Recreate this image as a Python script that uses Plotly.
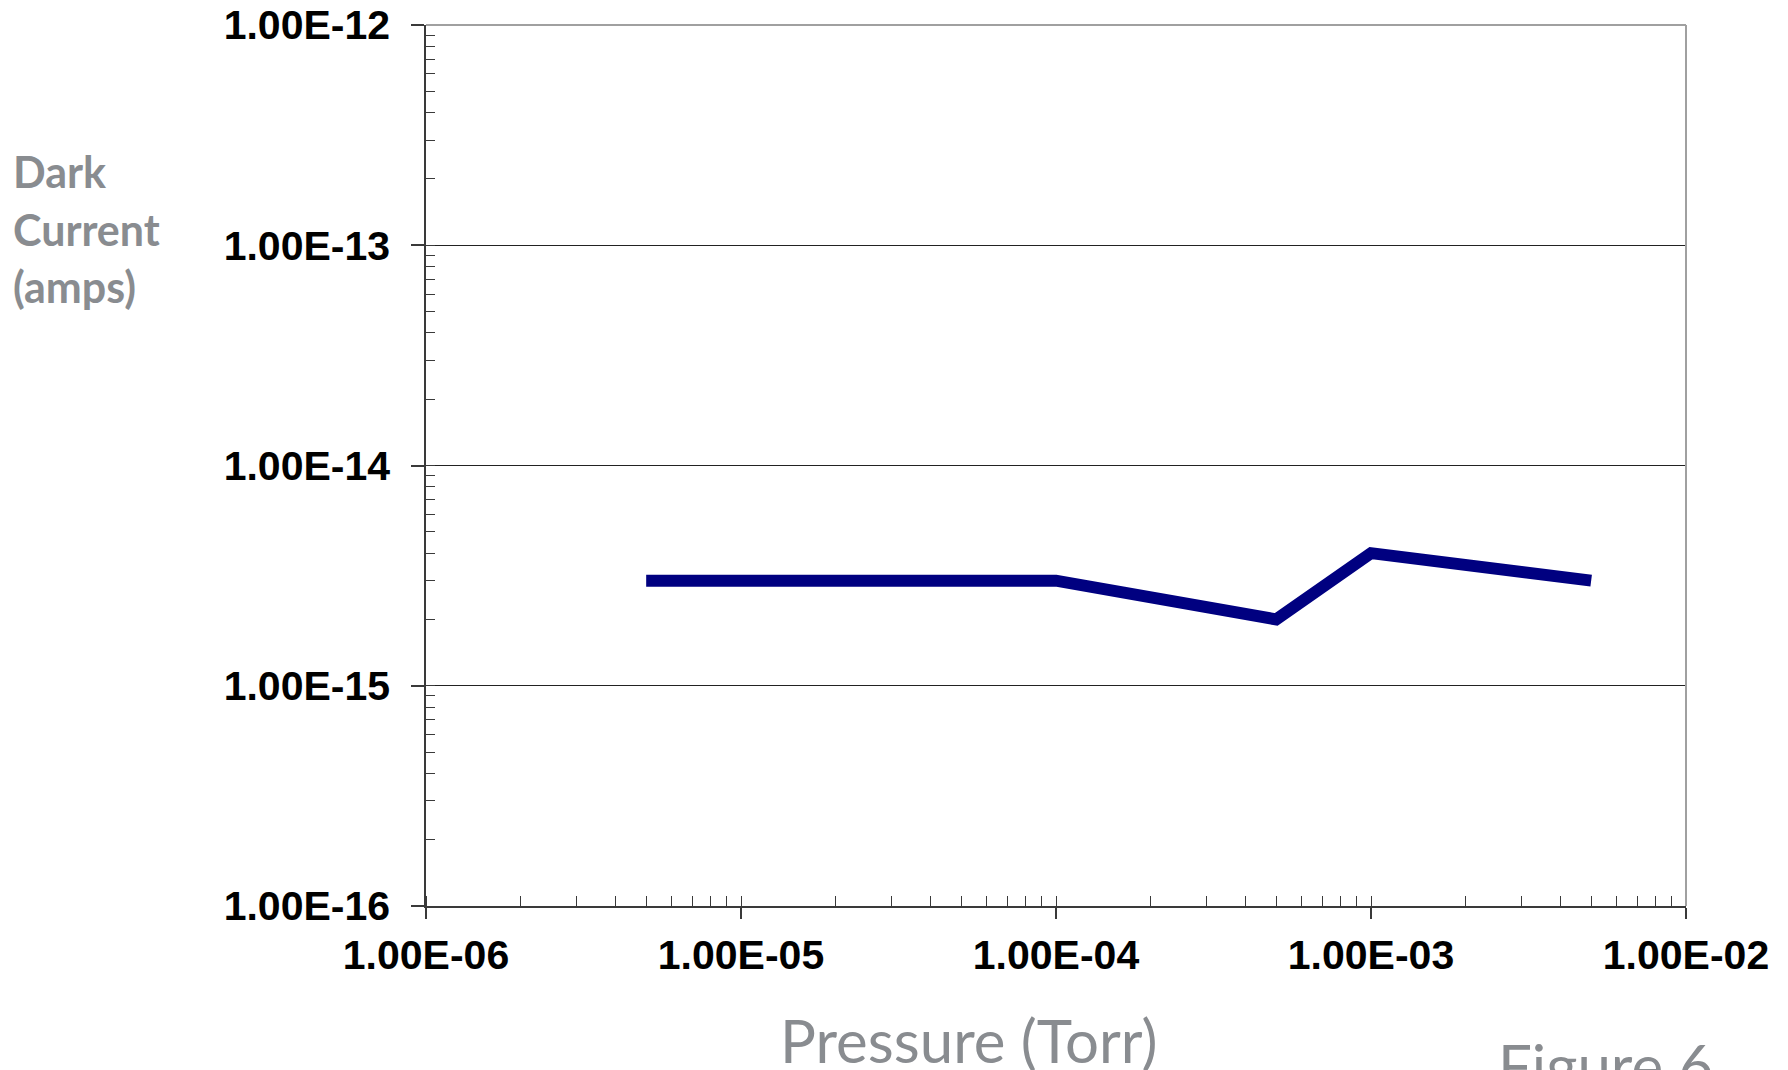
import plotly.graph_objects as go

# ---- data ----
pressure_torr = [5e-6, 1e-4, 5e-4, 1e-3, 5e-3]
dark_current_amps = [3e-15, 3e-15, 2e-15, 4e-15, 3e-15]

x_tick_vals = [1e-6, 1e-5, 1e-4, 1e-3, 1e-2]
x_tick_text = ["1.00E-06", "1.00E-05", "1.00E-04", "1.00E-03", "1.00E-02"]
y_tick_vals = [1e-16, 1e-15, 1e-14, 1e-13, 1e-12]
y_tick_text = ["1.00E-16", "1.00E-15", "1.00E-14", "1.00E-13", "1.00E-12"]

y_title_lines = ["Dark", "Current", "(amps)"]
x_title = "Pressure (Torr)"
figure_label = "Figure 6"

# ---- layout geometry ----
W, H = 1788, 1070
L, R, T, B = 426, 102, 25, 164
PW, PH = W - L - R, H - T - B

def px_x(px):
    return (px - L) / PW

def px_y(py):
    return (H - B - py) / PH

GRAY = "#898c90"
AX = "#3a3a3a"
tick_font = dict(family="Liberation Sans, Arial", size=41, color="black", weight="bold")

fig = go.Figure()
fig.add_trace(go.Scatter(
    x=pressure_torr, y=dark_current_amps, mode="lines",
    line=dict(color="#000080", width=12),
    showlegend=False, hoverinfo="skip",
))

fig.update_layout(
    width=W, height=H,
    margin=dict(l=L, r=R, t=T, b=B, autoexpand=False),
    paper_bgcolor="white", plot_bgcolor="white",
    showlegend=False,
)

fig.update_xaxes(
    type="log", range=[-6, -2],
    tickmode="array", tickvals=x_tick_vals, ticktext=x_tick_text,
    tickfont=tick_font,
    showline=True, linecolor=AX, linewidth=1.5,
    ticks="outside", ticklen=11, tickwidth=1.5, tickcolor=AX,
    showgrid=False, zeroline=False,
    ticklabelstandoff=1,
    minor=dict(ticks="inside", ticklen=10, tickwidth=1.3, tickcolor=AX,
               dtick="D1", showgrid=False),
)
fig.update_yaxes(
    type="log", range=[-16, -12],
    tickmode="array", tickvals=y_tick_vals, ticktext=y_tick_text,
    tickfont=tick_font,
    showline=True, linecolor=AX, linewidth=1.5,
    ticks="outside", ticklen=13, tickwidth=1.5, tickcolor=AX,
    showgrid=True, gridcolor="#222222", gridwidth=1.2,
    zeroline=False,
    ticklabelstandoff=13,
    minor=dict(ticks="inside", ticklen=9, tickwidth=1.3, tickcolor=AX,
               dtick="D1", showgrid=False),
)

# inside half of the crossing major ticks on the x axis
fig.update_layout(xaxis2=dict(
    type="log", range=[-6, -2], overlaying="x", anchor="y", side="bottom",
    tickmode="array", tickvals=x_tick_vals, showticklabels=False,
    ticks="inside", ticklen=11, tickwidth=1.5, tickcolor=AX,
    showgrid=False, zeroline=False, showline=False,
))

# gray frame on top and right
fig.add_shape(type="line", xref="paper", yref="paper", x0=0, x1=1, y0=1, y1=1,
              line=dict(color="#a0a0a0", width=2))
fig.add_shape(type="line", xref="paper", yref="paper", x0=1, x1=1, y0=0, y1=1,
              line=dict(color="#a0a0a0", width=2))

title_font = dict(family="Lato", size=43, color=GRAY, weight="bold")
for txt, py in zip(y_title_lines, [171, 229, 286]):
    fig.add_annotation(text=txt, xref="paper", yref="paper",
                       x=px_x(11), y=px_y(py), xanchor="left", yanchor="middle",
                       showarrow=False, font=title_font)

fig.add_annotation(text=x_title, xref="paper", yref="paper",
                   x=px_x(968), y=px_y(1040), xanchor="center", yanchor="middle",
                   showarrow=False, font=dict(family="Lato", size=60, color=GRAY))
fig.add_annotation(text=figure_label, xref="paper", yref="paper",
                   x=px_x(1605), y=px_y(1065), xanchor="center", yanchor="middle",
                   showarrow=False, font=dict(family="Lato", size=60, color=GRAY))

fig.write_html("out.html", config={"displayModeBar": False},
               post_script="document.body.style.margin='0';")
